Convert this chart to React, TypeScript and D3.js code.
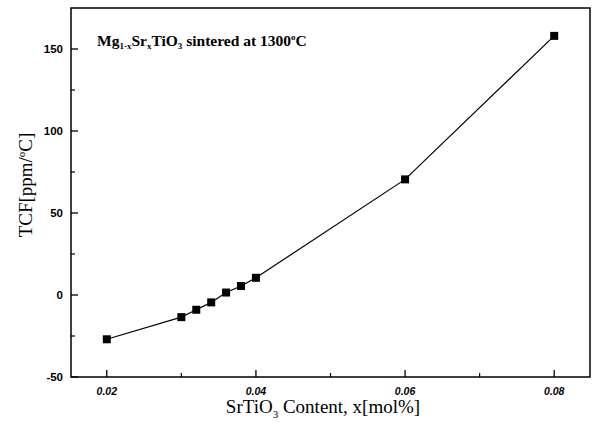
import React from "react";
import * as d3 from "d3";

const xValues = [0.02, 0.03, 0.032, 0.034, 0.036, 0.038, 0.04, 0.06, 0.08];
const tcfValues = [-27, -13.5, -9, -4.5, 1.5, 5.5, 10.5, 70.5, 158];
const xMajorTicks = [0.02, 0.04, 0.06, 0.08];
const xMinorTicks = [0.03, 0.05, 0.07];
const yMajorTicks = [-50, 0, 50, 100, 150];
const yMinorTicks = [-25, 25, 75, 125];

const W = 596, H = 423;
const L = 71, R = 590, T = 8, B = 377;

export default function App() {
  const x = d3.scaleLinear().domain([0.0152, 0.0848]).range([L, R]);
  const y = d3.scaleLinear().domain([-50, 175]).range([B, T]);
  const pts = xValues.map((v, i) => [x(v), y(tcfValues[i])] as [number, number]);
  const line = d3.line().curve(d3.curveLinear)(pts) || "";
  const serif = "'Liberation Serif', 'Times New Roman', serif";
  const sans = "'Liberation Sans', Arial, sans-serif";
  return (
    <svg width={W} height={H} style={{ position: "absolute", left: 0, top: 0, background: "#fff" }}>
      <rect x={L} y={T} width={R - L} height={B - T} fill="none" stroke="#000" strokeWidth={1.5} />
      {xMajorTicks.map((t) => (
        <g key={"xm" + t}>
          <line x1={x(t)} x2={x(t)} y1={B} y2={B - 7} stroke="#000" strokeWidth={1.3} />
          <text x={x(t)} y={395} textAnchor="middle" fontFamily={sans} fontStyle="italic" fontWeight="bold" fontSize={10.5}>
            {t.toFixed(2)}
          </text>
        </g>
      ))}
      {xMinorTicks.map((t) => (
        <line key={"xn" + t} x1={x(t)} x2={x(t)} y1={B} y2={B - 4} stroke="#000" strokeWidth={1.2} />
      ))}
      {yMajorTicks.map((t) => (
        <g key={"ym" + t}>
          <line x1={L} x2={L + 7} y1={y(t)} y2={y(t)} stroke="#000" strokeWidth={1.3} />
          <text x={63} y={y(t) + 4} textAnchor="end" fontFamily={sans} fontWeight="bold" fontSize={11.5}>
            {t}
          </text>
        </g>
      ))}
      {yMinorTicks.map((t) => (
        <line key={"yn" + t} x1={L} x2={L + 4} y1={y(t)} y2={y(t)} stroke="#000" strokeWidth={1.2} />
      ))}
      <path d={line} fill="none" stroke="#000" strokeWidth={1.2} />
      {pts.map(([px, py], i) => (
        <rect key={i} x={px - 4} y={py - 4} width={8} height={8} fill="#000" />
      ))}
      <text x={97} y={46} fontFamily={serif} fontWeight="bold" fontSize={15.5}>
        Mg<tspan fontSize={9} dy={3}>1-x</tspan>
        <tspan dy={-3}>Sr</tspan><tspan fontSize={9} dy={3}>x</tspan>
        <tspan dy={-3}>TiO</tspan><tspan fontSize={9} dy={3}>3</tspan>
        <tspan dy={-3}> sintered at 1300</tspan><tspan fontSize={9} dy={-6}>o</tspan>
        <tspan dy={6}>C</tspan>
      </text>
      <text transform={`translate(32,185) rotate(-90)`} textAnchor="middle" fontFamily={serif} fontSize={19}>
        TCF[ppm/<tspan fontSize={11} dy={-7}>o</tspan><tspan dy={7}>C]</tspan>
      </text>
      <text x={323} y={413} textAnchor="middle" fontFamily={serif} fontSize={19}>
        SrTiO<tspan fontSize={11} dy={5}>3</tspan><tspan dy={-5}> Content, x[mol%]</tspan>
      </text>
    </svg>
  );
}
